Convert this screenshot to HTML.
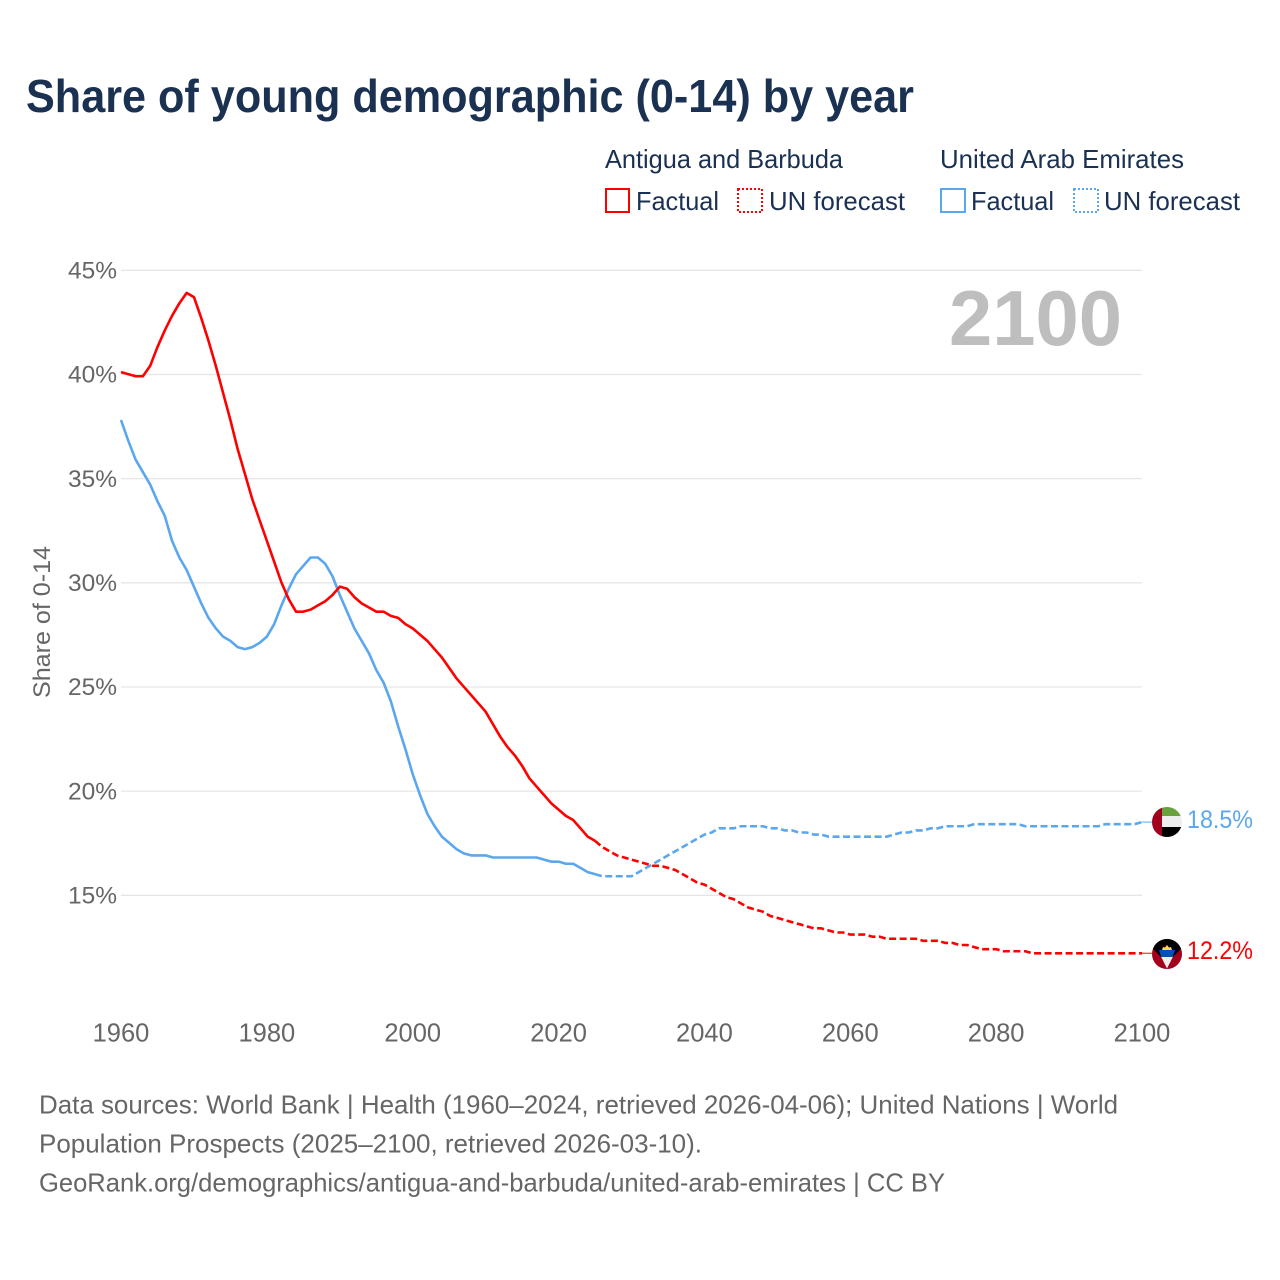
<!DOCTYPE html>
<html lang="en">
<head>
<meta charset="utf-8">
<title>Share of young demographic (0-14) by year</title>
<style>
html,body{margin:0;padding:0;background:#fff;}
svg{display:block;font-family:"Liberation Sans",sans-serif;}
</style>
</head>
<body>
<svg id="chart" xmlns="http://www.w3.org/2000/svg" width="1280" height="1280" viewBox="0 0 1280 1280">
  <defs>
    <clipPath id="flag-clip-ae"><circle cx="1167" cy="822" r="15"/></clipPath>
    <clipPath id="flag-clip-ag"><circle cx="1167" cy="954" r="15"/></clipPath>
  </defs>
  <rect x="0" y="0" width="1280" height="1280" fill="#ffffff"/>
  <text x="26" y="112" font-size="46" font-weight="700" fill="#1a3152" textLength="888" lengthAdjust="spacingAndGlyphs">Share of young demographic (0-14) by year</text>

  <g font-size="26" fill="#1a3152">
    <text x="605" y="168" textLength="238" lengthAdjust="spacingAndGlyphs">Antigua and Barbuda</text>
    <text x="940" y="168" textLength="244" lengthAdjust="spacingAndGlyphs">United Arab Emirates</text>
    <rect x="606" y="189" width="23" height="23" fill="none" stroke="#ff0000" stroke-width="2"/>
    <text x="636" y="210" textLength="83" lengthAdjust="spacingAndGlyphs">Factual</text>
    <rect x="738" y="189" width="24" height="23" fill="none" stroke="#ff0000" stroke-width="2" stroke-dasharray="2 2"/>
    <text x="769" y="210" textLength="136" lengthAdjust="spacingAndGlyphs">UN forecast</text>
    <rect x="941" y="189" width="24" height="23" fill="none" stroke="#5ba7ee" stroke-width="2"/>
    <text x="971" y="210" textLength="83" lengthAdjust="spacingAndGlyphs">Factual</text>
    <rect x="1074" y="189" width="24" height="23" fill="none" stroke="#5ba7ee" stroke-width="2" stroke-dasharray="2 2"/>
    <text x="1104" y="210" textLength="136" lengthAdjust="spacingAndGlyphs">UN forecast</text>
  </g>

  <g id="grid"></g>
  <g id="y-labels"></g>
  <g id="x-labels"></g>
  <text transform="translate(50,622) rotate(-90)" text-anchor="middle" font-size="24" fill="#666666" textLength="152" lengthAdjust="spacingAndGlyphs">Share of 0-14</text>
  <text x="949" y="345" font-size="78" font-weight="700" fill="#bebebe" textLength="173" lengthAdjust="spacingAndGlyphs">2100</text>
  <g id="series"></g>

  <g clip-path="url(#flag-clip-ae)">
    <rect x="1152" y="807" width="30" height="9" fill="#6aa13f"/>
    <rect x="1152" y="816" width="30" height="11" fill="#eeeeee"/>
    <rect x="1152" y="827" width="30" height="10" fill="#000000"/>
    <rect x="1152" y="807" width="10" height="30" fill="#a2001d"/>
  </g>
  <g clip-path="url(#flag-clip-ag)">
    <rect x="1152" y="939" width="30" height="30" fill="#a2001d"/>
    <polygon points="1152,939 1182,939 1182,948 1172.8,957 1161.2,957 1152,948" fill="#000000"/>
    <polygon points="1162,950 1163,947 1165,947.5 1167,945 1169,947.5 1171,947 1172,950" fill="#ffda44"/>
    <polygon points="1159,950 1175,950 1172.8,957 1161.2,957" fill="#0052b4"/>
    <polygon points="1161.2,957 1172.8,957 1167,968.5" fill="#eeeeee"/>
  </g>
  <text x="1187" y="828" font-size="25" fill="#5ba7ee" textLength="66" lengthAdjust="spacingAndGlyphs">18.5%</text>
  <text x="1187" y="959" font-size="25" fill="#ff0000" textLength="66" lengthAdjust="spacingAndGlyphs">12.2%</text>

  <g font-size="26" fill="#666666">
    <text x="39" y="1113.5" textLength="1079" lengthAdjust="spacingAndGlyphs">Data sources: World Bank | Health (1960–2024, retrieved 2026-04-06); United Nations | World</text>
    <text x="39" y="1152.5" textLength="663" lengthAdjust="spacingAndGlyphs">Population Prospects (2025–2100, retrieved 2026-03-10).</text>
    <text x="39" y="1191.5" textLength="906" lengthAdjust="spacingAndGlyphs">GeoRank.org/demographics/antigua-and-barbuda/united-arab-emirates | CC BY</text>
  </g>
</svg>
<script>
const xTicks = [1960, 1980, 2000, 2020, 2040, 2060, 2080, 2100];
const yTicks = [15, 20, 25, 30, 35, 40, 45];
const factualStartYear = 1960;
const forecastStartYear = 2025;
const antiguaFactual = [40.1,40.0,39.9,39.9,40.4,41.3,42.1,42.8,43.4,43.9,43.7,42.7,41.6,40.4,39.1,37.8,36.4,35.2,34.0,33.0,32.0,31.0,30.0,29.2,28.6,28.6,28.7,28.9,29.1,29.4,29.8,29.7,29.3,29.0,28.8,28.6,28.6,28.4,28.3,28.0,27.8,27.5,27.2,26.8,26.4,25.9,25.4,25.0,24.6,24.2,23.8,23.2,22.6,22.1,21.7,21.2,20.6,20.2,19.8,19.4,19.1,18.8,18.6,18.2,17.8,17.6];
const antiguaForecast = [17.6,17.3,17.1,16.9,16.8,16.7,16.6,16.5,16.4,16.4,16.3,16.2,16.0,15.8,15.6,15.5,15.3,15.1,14.9,14.8,14.6,14.4,14.3,14.2,14.0,13.9,13.8,13.7,13.6,13.5,13.4,13.4,13.3,13.2,13.2,13.1,13.1,13.1,13.0,13.0,12.9,12.9,12.9,12.9,12.9,12.8,12.8,12.8,12.7,12.7,12.6,12.6,12.5,12.4,12.4,12.4,12.3,12.3,12.3,12.3,12.2,12.2,12.2,12.2,12.2,12.2,12.2,12.2,12.2,12.2,12.2,12.2,12.2,12.2,12.2,12.2];
const uaeFactual = [37.8,36.8,35.9,35.3,34.7,33.9,33.2,32.0,31.2,30.6,29.8,29.0,28.3,27.8,27.4,27.2,26.9,26.8,26.9,27.1,27.4,28.0,28.9,29.7,30.4,30.8,31.2,31.2,30.9,30.3,29.4,28.6,27.8,27.2,26.6,25.8,25.2,24.3,23.1,22.0,20.8,19.8,18.9,18.3,17.8,17.5,17.2,17.0,16.9,16.9,16.9,16.8,16.8,16.8,16.8,16.8,16.8,16.8,16.7,16.6,16.6,16.5,16.5,16.3,16.1,16.0];
const uaeForecast = [16.0,15.9,15.9,15.9,15.9,15.9,16.1,16.3,16.5,16.7,16.9,17.1,17.3,17.5,17.7,17.9,18.0,18.2,18.2,18.2,18.3,18.3,18.3,18.3,18.2,18.2,18.1,18.1,18.0,18.0,17.9,17.9,17.8,17.8,17.8,17.8,17.8,17.8,17.8,17.8,17.8,17.9,18.0,18.0,18.1,18.1,18.2,18.2,18.3,18.3,18.3,18.3,18.4,18.4,18.4,18.4,18.4,18.4,18.4,18.3,18.3,18.3,18.3,18.3,18.3,18.3,18.3,18.3,18.3,18.3,18.4,18.4,18.4,18.4,18.4,18.5];
const svgNS = 'http://www.w3.org/2000/svg';
const RED = '#ff0000';
const BLUE = '#5ba7ee';
function xScale(year) { return 121 + (year - 1960) * (1142 - 121) / 140; }
function yScale(v) { return 895 - (v - 15) * (895 - 270) / 30; }
function pathFrom(values, startYear) {
  return values.map((v, i) => (i ? 'L' : 'M') + xScale(startYear + i).toFixed(2) + ' ' + yScale(v).toFixed(2)).join(' ');
}
const grid = document.getElementById('grid');
const yLabels = document.getElementById('y-labels');
const xLabels = document.getElementById('x-labels');
const series = document.getElementById('series');
yTicks.forEach(t => {
  const l = document.createElementNS(svgNS, 'line');
  
  
  l.setAttribute('x1', 121);
  l.setAttribute('x2', 1142);
  l.setAttribute('y1', yScale(t) + 0.3);
  l.setAttribute('y2', yScale(t) + 0.3);
  l.setAttribute('stroke', '#e6e6e6');
  l.setAttribute('stroke-width', '1.3');
  grid.appendChild(l);
  const txt = document.createElementNS(svgNS, 'text');
  
  
  txt.setAttribute('x', 117);
  txt.setAttribute('y', yScale(t) + 8.5);
  txt.setAttribute('text-anchor', 'end');
  txt.setAttribute('font-size', '24.5');
  txt.setAttribute('fill', '#666666');
  txt.textContent = t + '%';
  yLabels.appendChild(txt);
});
xTicks.forEach(t => {
  const txt = document.createElementNS(svgNS, 'text');
  
  
  txt.setAttribute('x', xScale(t));
  txt.setAttribute('y', 1041.5);
  txt.setAttribute('text-anchor', 'middle');
  txt.setAttribute('font-size', '25.5');
  txt.setAttribute('fill', '#666666');
  txt.textContent = t;
  xLabels.appendChild(txt);
});
function addLine(name, values, startYear, color, dashed) {
  const p = document.createElementNS(svgNS, 'path');
  
  
  p.setAttribute('d', pathFrom(values, startYear));
  p.setAttribute('fill', 'none');
  p.setAttribute('stroke', color);
  p.setAttribute('stroke-width', '2.6');
  p.setAttribute('stroke-linejoin', 'round');
  if (dashed) p.setAttribute('stroke-dasharray', '7 3.5');
  series.appendChild(p);
}
function addConnector(name, value, color) {
  const c = document.createElementNS(svgNS, 'line');
  
  
  c.setAttribute('x1', xScale(2100));
  c.setAttribute('x2', 1152);
  c.setAttribute('y1', yScale(value));
  c.setAttribute('y2', yScale(value));
  c.setAttribute('stroke', color);
  c.setAttribute('stroke-width', '1.4');
  c.setAttribute('opacity', '0.7');
  series.appendChild(c);
}
addLine('line-uae-factual', uaeFactual, factualStartYear, BLUE, false);
addLine('line-uae-forecast', uaeForecast, forecastStartYear, BLUE, true);
addLine('line-antigua-factual', antiguaFactual, factualStartYear, RED, false);
addLine('line-antigua-forecast', antiguaForecast, forecastStartYear, RED, true);
addConnector('connector-uae', uaeForecast[uaeForecast.length - 1], BLUE);
addConnector('connector-antigua', antiguaForecast[antiguaForecast.length - 1], RED);
</script>
</body>
</html>
